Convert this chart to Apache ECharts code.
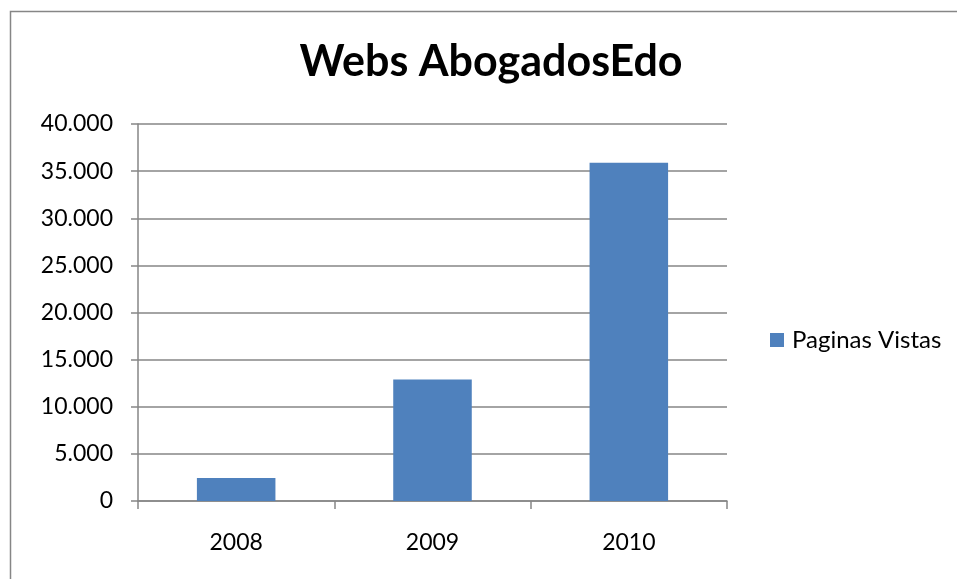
<!DOCTYPE html>
<html>
<head>
<meta charset="utf-8">
<script src="https://cdn.jsdelivr.net/npm/echarts@6/dist/echarts.min.js"></script>
<style>
    html, body { margin: 0; padding: 0; background: #fff; }
    #chart { width: 957px; height: 579px; }
</style>
</head>
<body>
<div id="chart"></div>
<script>
var years = ['2008', '2009', '2010'];
var paginasVistas = [2450, 12900, 35900];
var seriesName = 'Paginas Vistas';
var chartTitle = 'Webs AbogadosEdo';

var lineGray = '#868686';
var font = 'Lato';

function fmtMiles(v) {
    // 40000 -> 40.000
    return String(v).replace(/\B(?=(\d{3})+(?!\d))/g, '.');
}

var chart = echarts.init(document.getElementById('chart'));
chart.setOption({
    animation: false,
    title: {
        text: chartTitle,
        left: 486,
        top: 36,
        textAlign: 'center',
        textStyle: { fontFamily: font, fontWeight: 'bold', fontSize: 43, color: '#000' }
    },
    graphic: [{
        type: 'rect',
        shape: { x: 10.5, y: 11.5, width: 1000, height: 1000 },
        style: { fill: null, stroke: lineGray, lineWidth: 1.5 },
        silent: true
    }],
    legend: {
        data: [seriesName],
        left: 765,
        top: 321,
        itemWidth: 14,
        itemHeight: 14,
        icon: 'rect',
        textStyle: { fontFamily: font, fontSize: 24, color: '#000', lineHeight: 28, padding: [0, 0, 0, 3] }
    },
    grid: { left: 138, right: 230, top: 124, bottom: 78 },
    xAxis: {
        type: 'category',
        data: years,
        axisLine: { lineStyle: { color: lineGray, width: 1.5 } },
        axisTick: { show: true, length: 8, interval: 0, lineStyle: { color: lineGray, width: 1.5 } },
        axisLabel: { margin: 30, fontFamily: font, fontSize: 23, color: '#000' },
        splitLine: { show: false }
    },
    yAxis: {
        type: 'value',
        min: 0,
        max: 40000,
        interval: 5000,
        axisLine: { show: true, lineStyle: { color: lineGray, width: 1.5 } },
        axisTick: { show: true, length: 7, lineStyle: { color: lineGray, width: 1.5 } },
        axisLabel: { margin: 25, fontFamily: font, fontSize: 23, color: '#000', formatter: fmtMiles },
        splitLine: { show: true, lineStyle: { color: lineGray, width: 1.5 } }
    },
    series: [{
        name: seriesName,
        type: 'bar',
        data: paginasVistas,
        barWidth: '40%',
        itemStyle: { color: '#4F81BD' }
    }]
});
</script>
</body>
</html>
